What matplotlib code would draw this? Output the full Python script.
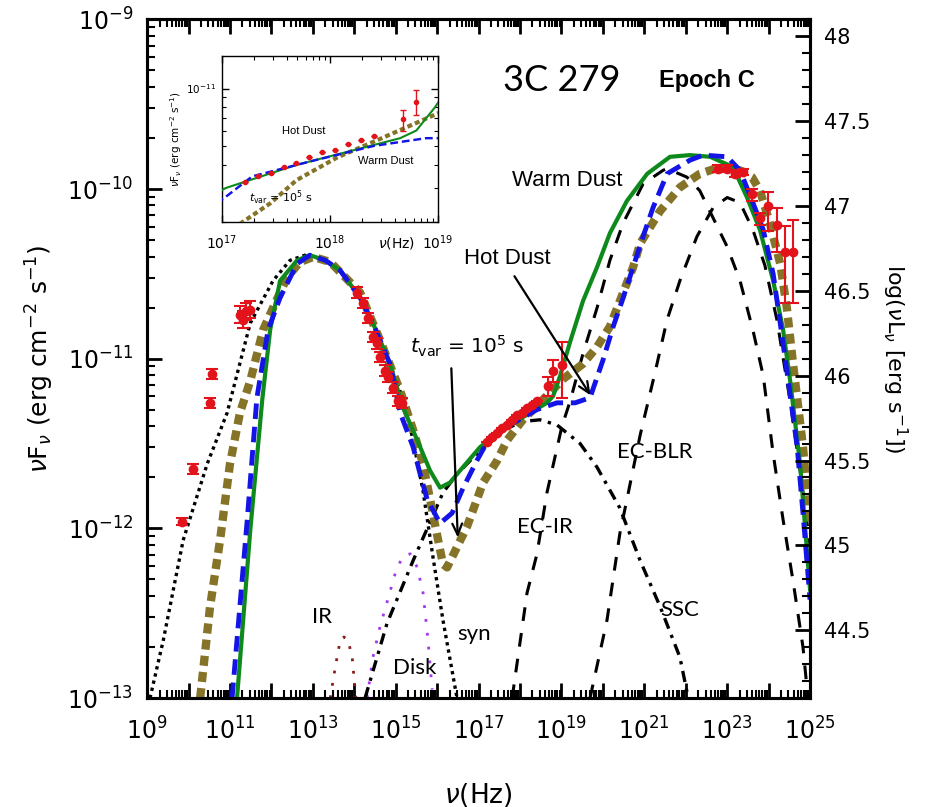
import numpy as np
import matplotlib
matplotlib.use("Agg")
import matplotlib.pyplot as plt

plt.rcParams['mathtext.fontset'] = 'dejavusans'

# ---------------- data (log10 nu [Hz], log10 nuFnu [erg cm^-2 s^-1]) ----------------
green_lx = [11.17, 11.49, 11.78, 11.97, 12.21, 12.62, 12.93, 13.30, 13.66, 14.14, 14.45, 14.86,
            15.18, 15.52, 15.83, 16.07, 16.31, 16.48, 17.04, 17.69, 18.24, 18.65, 18.80, 18.97,
            19.21, 19.52, 19.86, 20.17, 20.58, 21.07, 21.62, 22.10, 22.59, 23.14, 23.48, 23.79,
            24.11, 24.35, 24.52, 24.76, 25.00]
green_ly = [-13.00, -12.01, -11.24, -10.83, -10.54, -10.42, -10.39, -10.42, -10.48, -10.64, -10.79, -11.03,
            -11.29, -11.48, -11.66, -11.76, -11.73, -11.68, -11.52, -11.40, -11.32, -11.26, -11.22, -11.10,
            -10.90, -10.66, -10.46, -10.26, -10.07, -9.91, -9.81, -9.80, -9.81, -9.87, -10.05, -10.24,
            -10.54, -10.83, -11.13, -11.62, -12.36]

blue_lx = [11.05, 11.41, 11.65, 11.92, 12.21, 12.62, 12.93, 13.30, 13.66, 14.14, 14.45, 14.86,
           15.11, 15.42, 15.59, 15.76, 16.07, 16.36, 16.63, 16.96, 17.28, 17.83, 18.41, 18.89,
           19.33, 19.69, 20.00, 20.25, 20.49, 20.73, 20.97, 21.21, 21.55, 22.10, 22.42, 23.00,
           23.31, 23.62, 23.87, 24.11, 24.28, 24.44, 24.69, 24.83, 25.00]
blue_ly = [-13.00, -11.97, -11.23, -10.83, -10.64, -10.44, -10.39, -10.42, -10.48, -10.64, -10.79, -11.03,
           -11.32, -11.52, -11.68, -11.83, -11.97, -11.91, -11.76, -11.60, -11.46, -11.38, -11.30, -11.26,
           -11.26, -11.23, -11.01, -10.81, -10.64, -10.46, -10.28, -10.11, -9.91, -9.83, -9.80, -9.81,
           -9.89, -10.08, -10.24, -10.50, -10.79, -11.07, -11.52, -11.91, -12.42]

olive_lx = [10.28, 10.52, 10.76, 11.00, 11.24, 11.49, 11.80, 12.04, 12.38, 12.69, 13.01, 13.42,
            14.14, 14.62, 15.11, 15.42, 15.66, 15.83, 16.00, 16.14, 16.24, 16.48, 16.72, 16.96,
            17.11, 17.45, 17.69, 18.07, 18.48, 19.04, 19.52, 19.86, 20.17, 20.49, 20.73, 20.90,
            21.38, 21.86, 22.34, 22.83, 23.31, 23.60, 23.79, 24.03, 24.28, 24.44, 24.59, 24.83, 25.00]
olive_ly = [-13.00, -12.46, -12.07, -11.62, -11.32, -11.13, -10.83, -10.70, -10.52, -10.43, -10.40, -10.43,
            -10.61, -10.89, -11.19, -11.42, -11.62, -11.83, -12.04, -12.21, -12.23, -12.11, -11.99, -11.83,
            -11.73, -11.60, -11.48, -11.36, -11.26, -11.12, -11.03, -10.93, -10.81, -10.61, -10.46, -10.32,
            -10.13, -9.99, -9.91, -9.87, -9.89, -9.93, -10.01, -10.20, -10.44, -10.70, -11.03, -11.52, -11.99]

syn_lx = [9.07, 9.39, 9.87, 10.45, 10.93, 11.49, 12.04, 12.45, 12.81, 13.30, 13.66, 14.14, 14.45,
          14.86, 15.18, 15.42, 15.66, 15.90, 16.14, 16.48]
syn_ly = [-13.00, -12.66, -12.07, -11.62, -11.32, -10.79, -10.54, -10.42, -10.39, -10.42, -10.48, -10.64,
          -10.79, -11.03, -11.24, -11.48, -11.78, -12.17, -12.54, -13.00]

ssc_lx = [14.26, 14.79, 15.42, 16.14, 16.48, 17.04, 17.59, 18.07, 18.48, 18.89, 19.45, 19.86,
          20.41, 20.90, 21.38, 21.86, 22.06]
ssc_ly = [-13.00, -12.56, -12.19, -11.79, -11.68, -11.54, -11.42, -11.37, -11.36, -11.39, -11.50, -11.64,
          -11.88, -12.19, -12.46, -12.76, -13.00]

ecir_lx = [17.81, 18.17, 18.41, 18.65, 19.01, 19.21, 19.52, 19.86, 20.17, 20.49, 20.97, 21.45, 21.55,
           22.03, 22.34, 22.66, 23.00, 23.31, 23.62, 23.87, 24.11, 24.35, 24.59, 24.83, 24.95]
ecir_ly = [-13.00, -12.38, -12.15, -11.79, -11.40, -11.25, -10.97, -10.70, -10.42, -10.20, -9.97, -9.89, -9.88,
           -9.93, -10.01, -10.17, -10.34, -10.54, -10.83, -11.10, -11.56, -11.95, -12.31, -12.70, -13.00]

ecblr_lx = [19.69, 20.10, 20.41, 20.58, 20.90, 21.26, 21.55, 21.86, 22.27, 22.66, 23.00, 23.31, 23.62,
            23.91, 24.20, 24.52, 24.76, 25.00]
ecblr_ly = [-13.00, -12.54, -12.03, -11.83, -11.45, -11.08, -10.77, -10.54, -10.28, -10.11, -10.05, -10.08, -10.24,
            -10.45, -10.77, -11.25, -11.66, -12.10]

ir_lx = [13.42, 13.54, 13.66, 13.75, 13.85, 13.95, 14.02, 14.04]
ir_ly = [-13.00, -12.82, -12.66, -12.64, -12.66, -12.76, -12.95, -13.00]

disk_lx = [14.31, 14.45, 14.62, 14.82, 15.03, 15.20, 15.35, 15.52, 15.66, 15.78, 15.88]
disk_ly = [-13.00, -12.76, -12.58, -12.41, -12.23, -12.16, -12.15, -12.23, -12.38, -12.66, -12.95]

# observed points
obs_lx = [9.85, 10.11, 10.52, 10.57, 11.24, 11.32, 11.39, 11.49,
          14.07, 14.21, 14.33, 14.45, 14.55, 14.62, 14.74, 14.82, 14.94, 15.06, 15.15,
          17.21, 17.33, 17.45, 17.57, 17.69, 17.81, 17.93, 18.05, 18.17, 18.29, 18.41,
          18.68, 18.80, 19.01,
          22.78, 23.00, 23.19, 23.38, 23.60, 23.79, 23.99, 24.20, 24.40, 24.59]
obs_ly = [-11.96, -11.65, -11.26, -11.09, -10.74, -10.77, -10.72, -10.71,
          -10.61, -10.67, -10.76, -10.87, -10.91, -10.99, -11.07, -11.11, -11.17, -11.25, -11.26,
          -11.49, -11.46, -11.44, -11.41, -11.39, -11.36, -11.33, -11.32, -11.29, -11.27, -11.25,
          -11.16, -11.07, -11.04,
          -9.88, -9.88, -9.91, -9.90, -10.03, -10.17, -10.10, -10.21, -10.37, -10.37]
obs_elo = [0.02, 0.03, 0.03, 0.03, 0.05, 0.05, 0.05, 0.05,
           0.03, 0.03, 0.03, 0.03, 0.03, 0.03, 0.03, 0.03, 0.03, 0.03, 0.03,
           0.0, 0.0, 0.0, 0.0, 0.0, 0.0, 0.0, 0.0, 0.0, 0.0, 0.0,
           0.06, 0.07, 0.19,
           0.02, 0.02, 0.02, 0.02, 0.04, 0.04, 0.15, 0.16, 0.30, 0.30]
obs_ehi = [0.02, 0.03, 0.03, 0.03, 0.05, 0.05, 0.05, 0.05,
           0.03, 0.03, 0.03, 0.03, 0.03, 0.03, 0.03, 0.03, 0.03, 0.03, 0.03,
           0.0, 0.0, 0.0, 0.0, 0.0, 0.0, 0.0, 0.0, 0.0, 0.0, 0.0,
           0.05, 0.06, 0.14,
           0.02, 0.02, 0.02, 0.02, 0.03, 0.03, 0.08, 0.10, 0.15, 0.19]

x_ticklabels = ['$10^{9}$', '$10^{11}$', '$10^{13}$', '$10^{15}$', '$10^{17}$', '$10^{19}$',
                '$10^{21}$', '$10^{23}$', '$10^{25}$']
y_ticklabels = ['$10^{-13}$', '$10^{-12}$', '$10^{-11}$', '$10^{-10}$', '$10^{-9}$']
right_ticks = [44.5, 45, 45.5, 46, 46.5, 47, 47.5, 48]
lum_offset = 57.1   # log(nuL) - log(nuFnu)

# ---------------- styles ----------------
GREEN = '#0e8a1c'
BLUE = '#1414e6'
OLIVE = '#857428'
RED = '#e3131b'
PURPLE = '#a238f0'
DARKRED = '#8b1a1a'
CAL = 'Lato'


def P(lx, ly):
    return 10 ** np.asarray(lx, float), 10 ** np.asarray(ly, float)


def draw_models(ax, scale=1.0, comps=True):
    if comps:
        ax.plot(*P(ir_lx, ir_ly), color=DARKRED, lw=2.0 * scale, ls=(0, (1, 3.5)), zorder=2)
        ax.plot(*P(disk_lx, disk_ly), color=PURPLE, lw=2.0 * scale, ls=(0, (1, 4)), zorder=2)
        ax.plot(*P(syn_lx, syn_ly), color='black', lw=2.4 * scale, ls=(0, (1, 1.2)), zorder=2)
        ax.plot(*P(ssc_lx, ssc_ly), color='black', lw=2.4 * scale, ls=(0, (3.4, 2, 1, 2)), zorder=2)
        ax.plot(*P(ecir_lx, ecir_ly), color='black', lw=2.2 * scale, ls=(0, (4.5, 4)), zorder=2)
        ax.plot(*P(ecblr_lx, ecblr_ly), color='black', lw=2.2 * scale, ls=(0, (4.5, 4)), zorder=2)
    ax.plot(*P(olive_lx, olive_ly), color=OLIVE, lw=6.0 * scale, ls=(0, (1.2, 0.75)), zorder=3)
    ax.plot(*P(blue_lx, blue_ly), color=BLUE, lw=3.5 * scale, ls=(0, (3.2, 1.6)), zorder=4)
    ax.plot(*P(green_lx, green_ly), color=GREEN, lw=3.0 * scale, zorder=3.5)


def draw_data(ax, ms=6, cap=4, elw=1.5, mask=None):
    x, y = P(obs_lx, obs_ly)
    lo = y - 10 ** (np.asarray(obs_ly) - np.asarray(obs_elo))
    hi = 10 ** (np.asarray(obs_ly) + np.asarray(obs_ehi)) - y
    if mask is not None:
        x, y, lo, hi = x[mask], y[mask], lo[mask], hi[mask]
    ax.errorbar(x, y, yerr=[lo, hi], fmt='o', color=RED, ms=ms, capsize=cap,
                elinewidth=elw, capthick=elw, zorder=6)


fig = plt.figure(figsize=(9.43, 8.07), dpi=100)
ax = fig.add_axes([0.156, 0.135, 0.703, 0.841])
ax.set_xscale('log')
ax.set_yscale('log')
ax.set_xlim(1e9, 1e25)
ax.set_ylim(1e-13, 1e-9)

draw_models(ax)
draw_data(ax)

# ticks
ax.set_xticks([10.0 ** k for k in range(9, 26)])
ax.set_xticklabels([x_ticklabels[(k - 9) // 2] if (k - 9) % 2 == 0 else '' for k in range(9, 26)])
ax.xaxis.set_minor_locator(matplotlib.ticker.LogLocator(base=10, subs=np.arange(2, 10), numticks=100))
ax.xaxis.set_minor_formatter(matplotlib.ticker.NullFormatter())
ax.set_yticks([10.0 ** k for k in range(-13, -8)])
ax.set_yticklabels(y_ticklabels)
ax.yaxis.set_minor_locator(matplotlib.ticker.LogLocator(base=10, subs=np.arange(2, 10), numticks=100))
ax.yaxis.set_minor_formatter(matplotlib.ticker.NullFormatter())
ax.tick_params(which='major', direction='in', length=11, width=2, top=True, right=False,
               labelsize=17)
ax.tick_params(axis='x', which='major', pad=14)
ax.tick_params(axis='y', which='major', pad=10)
ax.tick_params(which='minor', direction='in', length=6, width=1.5, top=True, right=False)
for s in ax.spines.values():
    s.set_linewidth(2.2)

ax.set_xlabel(r'$\nu$(Hz)', fontsize=19, labelpad=26)
ax.set_ylabel(r'$\nu$F$_{\nu}$ (erg cm$^{-2}$ s$^{-1}$)', fontsize=18, labelpad=8)

# right axis
ax2 = ax.twinx()
ax2.set_ylim(-13 + lum_offset, -9 + lum_offset)
ax2.set_yticks(right_ticks)
ax2.set_yticklabels([('%g' % t) for t in right_ticks])
ax2.yaxis.set_minor_locator(matplotlib.ticker.MultipleLocator(0.1))
ax2.tick_params(which='major', direction='in', length=11, width=2, labelsize=15, pad=10)
ax2.tick_params(which='minor', direction='in', length=6, width=1.5)
ax2.set_ylabel(r'log($\nu$L$_{\nu}$ [erg s$^{-1}$])', fontsize=16, rotation=270, labelpad=28)
for s in ax2.spines.values():
    s.set_linewidth(2.2)

# annotations
T = lambda lx, ly: (10 ** lx, 10 ** ly)
ax.text(*T(19.01, -9.36), '3C 279', fontsize=26, family=CAL, ha='center', va='center')
ax.text(*T(22.51, -9.36), 'Epoch C', fontsize=17, family='Liberation Sans', weight='bold',
        ha='center', va='center')
ax.text(*T(19.14, -9.95), 'Warm Dust', fontsize=16, family='Liberation Sans', ha='center', va='center')
ax.text(*T(17.69, -10.41), 'Hot Dust', fontsize=16, family='Liberation Sans', ha='center', va='center')
ax.text(*T(15.35, -10.93), r'$t_{\rm var}$ = 10$^{5}$ s', fontsize=14.5, ha='left', va='center')
ax.text(*T(21.26, -11.55), 'EC-BLR', fontsize=16, family=CAL, ha='center', va='center')
ax.text(*T(18.60, -11.99), 'EC-IR', fontsize=16, family=CAL, ha='center', va='center')
ax.text(*T(21.86, -12.48), 'SSC', fontsize=16, family=CAL, ha='center', va='center')
ax.text(*T(16.89, -12.62), 'syn', fontsize=16, family=CAL, ha='center', va='center')
ax.text(*T(15.47, -12.82), 'Disk', fontsize=16, family=CAL, ha='center', va='center')
ax.text(*T(13.22, -12.52), 'IR', fontsize=16, family=CAL, ha='center', va='center')

ax.annotate('', xy=T(16.50, -12.07), xytext=T(16.34, -11.04),
            arrowprops=dict(arrowstyle='->,head_length=0.8,head_width=0.35', lw=1.6, color='black'),
            zorder=7)
ax.annotate('', xy=T(19.74, -11.23), xytext=T(17.83, -10.50),
            arrowprops=dict(arrowstyle='->,head_length=0.8,head_width=0.35', lw=1.6, color='black'),
            zorder=7)

# ---------------- inset ----------------
axi = fig.add_axes([0.2354, 0.7249, 0.229, 0.2057])
axi.set_xscale('log')
axi.set_yscale('log')
axi.set_xlim(1e17, 1e19)
axi.set_ylim(2.0e-12, 1.48e-11)
draw_models(axi, scale=0.5, comps=False)
m = (np.asarray(obs_lx) > 17) & (np.asarray(obs_lx) < 19)
draw_data(axi, ms=3, cap=2, elw=1.0, mask=m)
axi.set_xticks([1e17, 1e18, 1e19])
axi.set_xticklabels(['$10^{17}$', '$10^{18}$', '$10^{19}$'])
axi.set_yticks([1e-11])
axi.set_yticklabels(['$10^{-11}$'])
axi.yaxis.set_minor_locator(matplotlib.ticker.LogLocator(base=10, subs=np.arange(2, 10), numticks=100))
axi.yaxis.set_minor_formatter(matplotlib.ticker.NullFormatter())
axi.xaxis.set_minor_locator(matplotlib.ticker.LogLocator(base=10, subs=np.arange(2, 10), numticks=100))
axi.xaxis.set_minor_formatter(matplotlib.ticker.NullFormatter())
axi.tick_params(which='major', direction='in', length=5, width=1, top=True, right=True, pad=4)
axi.tick_params(axis='x', which='major', labelsize=10, pad=8)
axi.tick_params(axis='y', which='major', labelsize=7.5)
axi.tick_params(which='minor', direction='in', length=3, width=0.8, top=True, right=True)
for s in axi.spines.values():
    s.set_linewidth(1.0)
axi.set_ylabel(r'$\nu$F$_{\nu}$ (erg cm$^{-2}$ s$^{-1}$)', fontsize=7.5, labelpad=2)
axi.text(10 ** 18.62, 1.55e-12, r'$\nu$(Hz)', fontsize=10, ha='center', va='center')
axi.text(10 ** 17.76, 10 ** -11.22, 'Hot Dust', fontsize=8, family='Liberation Sans', ha='center', va='center')
axi.text(10 ** 18.52, 10 ** -11.38, 'Warm Dust', fontsize=8, family='Liberation Sans', ha='center', va='center')
axi.text(10 ** 17.55, 10 ** -11.57, r'$t_{\rm var}$ = 10$^{5}$ s', fontsize=8, ha='center', va='center')

fig.savefig('out.png', dpi=100)
